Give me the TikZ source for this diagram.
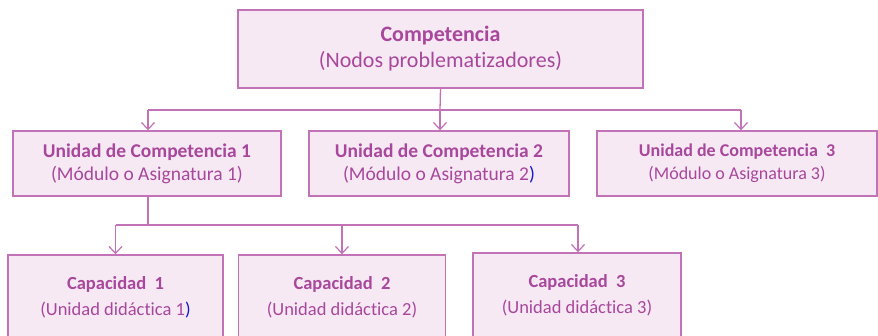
\documentclass[tikz,border=0pt]{standalone}
\usepackage{fontspec}
\setmainfont{Carlito}[Ligatures=NoCommon]
\usetikzlibrary{arrows.meta}
\definecolor{bord}{HTML}{C272B6}
\definecolor{boxfill}{HTML}{F6E9F3}
\definecolor{txt}{HTML}{A8479C}
\definecolor{blu}{HTML}{1A1ACC}
\begin{document}
\begin{tikzpicture}[x=1pt,y=-1pt,
  box/.style={draw=bord, fill=boxfill, line width=1.4pt, rectangle, align=center, text=txt, inner sep=0pt},
  topbox/.style={box, minimum width=405pt, minimum height=78pt, font=\fontsize{22}{26}\selectfont},
  unitbox/.style={box, minimum height=65pt, font=\fontsize{19.5}{23}\selectfont},
  capbox/.style={box, minimum height=85pt, font=\fontsize{18.5}{26}\selectfont},
  conn/.style={draw=bord, line width=1.3pt},
  arr/.style={conn, -{Straight Barb[length=7pt,width=13pt,line width=1.2pt]}}
]
\clip (0,0) rectangle (878,335);
\fill[white] (0,0) rectangle (878,335);
\node[topbox] (top) at (440.5,49) {\textbf{Competencia}\\(Nodos problematizadores)};
\node[unitbox, minimum width=268pt] (u1) at (147,163.5) {\textbf{Unidad de Competencia 1}\\(Módulo o Asignatura 1)};
\node[unitbox, minimum width=260pt] (u2) at (439,163.5) {\textbf{Unidad de Competencia 2}\\(Módulo o Asignatura 2\textcolor{blu}{)}};
\node[unitbox, minimum width=280pt, font=\fontsize{18}{23}\selectfont] (u3) at (737,163.5) {\textbf{Unidad de Competencia\ \ 3}\\(Módulo o Asignatura 3)};
\node[capbox, minimum width=215pt] (c1) at (115.5,297.5) {\textbf{Capacidad\ \ 1}\\(Unidad didáctica 1\textcolor{blu}{)}};
\node[capbox, minimum width=207pt] (c2) at (342,297.5) {\textbf{Capacidad\ \ 2}\\(Unidad didáctica 2)};
\node[capbox, minimum width=208pt] (c3) at (577,295.5) {\textbf{Capacidad\ \ 3}\\(Unidad didáctica 3)};
% first level connectors
\coordinate (bus1) at (440,110);
\coordinate (bus1l) at (148,110);
\coordinate (bus1r) at (741,110);
\draw[conn] (top.south) -- (bus1);
\draw[conn] (bus1l) -- (bus1r);
\draw[arr] (bus1l) -- (u1.north -| bus1l);
\draw[arr] (bus1) -- (u2.north -| bus1);
\draw[arr] (bus1r) -- (u3.north -| bus1r);
% second level connectors
\coordinate (bus2) at (148,225);
\coordinate (bus2l) at (115.5,225);
\coordinate (bus2r) at (578,225);
\draw[conn] (u1.south -| bus2) -- (bus2);
\draw[conn] (bus2l) -- (bus2r);
\draw[arr] (bus2l) -- (c1.north -| bus2l);
\draw[arr] (bus2 -| c2.north) -- (c2.north);
\draw[arr] (bus2r) -- (c3.north -| bus2r);
\end{tikzpicture}
\end{document}
